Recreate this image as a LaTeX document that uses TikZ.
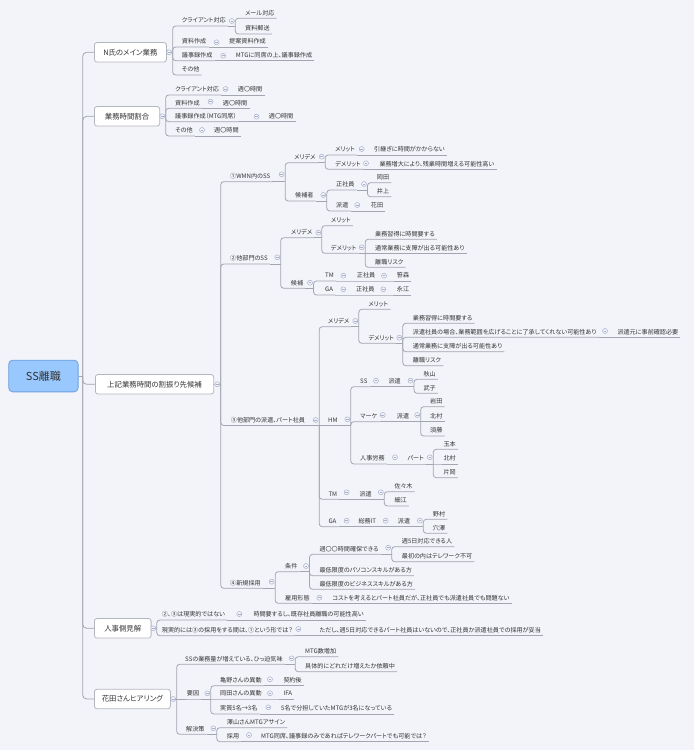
\documentclass[tikz,border=0pt]{standalone}
\usepackage{fontspec}
\setmainfont{Noto Sans CJK JP}[RawFeature=+palt]
\usetikzlibrary{positioning}
\definecolor{paper}{RGB}{243,244,250}
\definecolor{linecol}{RGB}{163,165,176}
\definecolor{boxline}{RGB}{180,182,190}
\definecolor{rootfill}{RGB}{153,200,255}
\definecolor{rootline}{RGB}{110,160,222}
\definecolor{ink}{RGB}{51,51,51}
\definecolor{foldcol}{RGB}{168,176,204}
\pgfdeclarelayer{paperlayer}
\pgfdeclarelayer{linelayer}
\pgfsetlayers{paperlayer,linelayer,main}
% 親トピック -> ボタン横の幹 -> 子トピックの下線
\newcommand{\fanout}[4]{%
  \draw[link] (#1.#2) -- (#3.east |- #1.#2);
  \foreach \kid in {#4}
    \draw[link, rounded corners=3pt] (#3.east |- #1.#2) |- (\kid.south east);
}

\begin{document}
\begin{tikzpicture}[x=1pt, y=-1pt,
        % 線のスタイル
        link/.style={draw=linecol, line width=0.8pt},
        % 中心トピック
        root/.style={rectangle, draw=rootline, fill=rootfill, rounded corners=4pt, line width=0.8pt, anchor=west, minimum width=69.4pt, minimum height=31.7pt, text=ink, font=\fontsize{11}{13}\selectfont},
        % メイントピック
        main/.style={rectangle, draw=boxline, fill=white, rounded corners=2.5pt, line width=0.8pt, anchor=west, minimum height=19.5pt, inner xsep=4pt, text=ink, font=\fontsize{7.4}{9}\selectfont},
        % サブトピック（下線付きテキスト）
        sub/.style={anchor=south west, xshift=-2pt, inner xsep=2pt, inner ysep=1.6pt, text height=4.7pt, text depth=1.3pt, text=ink, font=\fontsize{6.1}{7.3}\selectfont},
        % 折りたたみボタン
        fold/.style={circle, draw=foldcol, fill=paper, line width=0.5pt, minimum size=5pt, inner sep=0pt, outer sep=1pt, path picture={\draw[foldcol, line width=0.5pt] ([xshift=-1.3pt]path picture bounding box.center) -- ([xshift=1.3pt]path picture bounding box.center);}}
    ]
    \useasboundingbox (0,0) rectangle (694,750);
    \begin{pgfonlayer}{paperlayer}
        \fill[paper] (0,0) rectangle (694,750);
    \end{pgfonlayer}

    % 中心トピックとメイントピック
    \node[root] (root) at (8.3,376) {SS離職};
    \coordinate (j-root) at (82.7,376);
    \node[main, minimum width=72pt] (nshi) at (94,52.3) {N氏のメイン業務};
    \node[main, minimum width=65.3pt] (wari) at (94,116.3) {業務時間割合};
    \node[main, minimum width=118.3pt] (koho) at (95,384.3) {上記業務時間の割振り先候補};
    \node[main, minimum width=56.7pt] (jinji) at (94,628.3) {人事側見解};
    \node[main, minimum width=76pt] (hana) at (94,699) {花田さんヒアリング};
    \node[fold] (b-nshi) at (169.2,52.3) {};
    \node[fold] (b-wari) at (162.2,116.3) {};
    \node[fold] (b-koho) at (217.3,384.3) {};
    \node[fold] (b-jinji) at (153.3,628.3) {};
    \node[fold] (b-hana) at (173.2,699) {};

    % N氏のメイン業務
    \node[sub] (n-cl) at (181.7,26) {クライアント対応};
    \node[fold] (b-ncl) at (231.8,21) {};
    \node[sub] (n-mail) at (245,18.3) {メール対応};
    \node[sub] (n-yubin) at (245,34) {資料郵送};
    \node[sub] (n-shiryo) at (181.7,47) {資料作成};
    \node[fold] (b-nshiryo) at (216.5,42.3) {};
    \node[sub] (n-teian) at (229,47) {提案資料作成};
    \node[sub] (n-giji) at (181.7,60.7) {議事録作成};
    \node[fold] (b-ngiji) at (223.2,55.7) {};
    \node[sub] (n-mtg) at (235.7,60.7) {MTGに同席の上、議事録作成};
    \node[sub] (n-other) at (181.7,75) {その他};

    % 業務時間割合
    \node[sub] (w-cl) at (175,95) {クライアント対応};
    \node[fold] (b-wcl) at (225.5,89) {};
    \node[sub] (w-cl-t) at (237.7,95) {週〇時間};
    \node[sub] (w-shiryo) at (175,108.3) {資料作成};
    \node[fold] (b-wshiryo) at (210.5,101.7) {};
    \node[sub] (w-shiryo-t) at (222.7,108.3) {週〇時間};
    \node[sub] (w-giji) at (175,121.7) {議事録作成（MTG同席）};
    \node[fold] (b-wgiji) at (256.5,116.7) {};
    \node[sub] (w-giji-t) at (268.7,121.7) {週〇時間};
    \node[sub] (w-other) at (175,136) {その他};
    \node[fold] (b-wother) at (202,130) {};
    \node[sub] (w-other-t) at (214,136) {週〇時間};

    % ①WMN内のSS
    \node[sub] (k1) at (230,181.7) {①WMN内のSS};
    \node[fold] (b-k1) at (281.7,174.3) {};
    \node[sub] (k1-md) at (294,162.7) {メリデメ};
    \node[fold] (b-k1md) at (321.7,156.7) {};
    \node[sub] (k1-m) at (335,155) {メリット};
    \node[fold] (b-k1m) at (361.7,149) {};
    \node[sub] (k1-m1) at (374,155) {引継ぎに時間がかからない};
    \node[sub] (k1-d) at (335,169.3) {デメリット};
    \node[fold] (b-k1d) at (366,163.3) {};
    \node[sub] (k1-d1) at (379.3,169.3) {業務増大により、残業時間増える可能性高い};
    \node[sub] (k1-kh) at (295,201) {候補者};
    \node[fold] (b-k1kh) at (323.3,195) {};
    \node[sub] (k1-sei) at (336,190) {正社員};
    \node[fold] (b-k1sei) at (364,184) {};
    \node[sub] (k1-okada) at (376.7,182.7) {岡田};
    \node[sub] (k1-inoue) at (376.7,196.7) {井上};
    \node[sub] (k1-haken) at (336,211) {派遣};
    \node[fold] (b-k1haken) at (357.3,205) {};
    \node[sub] (k1-hanada) at (370.7,211) {花田};

    % ②他部門のSS
    \node[sub] (k2) at (230,264) {②他部門のSS};
    \node[fold] (b-k2) at (277.3,257.3) {};
    \node[sub] (k2-md) at (290.7,237.7) {メリデメ};
    \node[fold] (b-k2md) at (318.3,232.7) {};
    \node[sub] (k2-m) at (330.7,225.7) {メリット};
    \node[sub] (k2-d) at (330.7,253.3) {デメリット};
    \node[fold] (b-k2d) at (361.7,247.3) {};
    \node[sub] (k2-d1) at (375,239.3) {業務習得に時間要する};
    \node[sub] (k2-d2) at (375,253.3) {通常業務に支障が出る可能性あり};
    \node[sub] (k2-d3) at (375,267.3) {離職リスク};
    \node[sub] (k2-kh) at (290.7,288.3) {候補};
    \node[fold] (b-k2kh) at (310,282.7) {};
    \node[sub] (k2-tm) at (325,281) {TM};
    \node[fold] (b-k2tm) at (343.3,275.7) {};
    \node[sub] (k2-tm-s) at (356.7,281) {正社員};
    \node[fold] (b-k2tms) at (384,275.7) {};
    \node[sub] (k2-tm-n) at (396.7,281) {笹森};
    \node[sub] (k2-ga) at (325,295) {GA};
    \node[fold] (b-k2ga) at (343.3,289.3) {};
    \node[sub] (k2-ga-s) at (356,295) {正社員};
    \node[fold] (b-k2gas) at (383.3,289.3) {};
    \node[sub] (k2-ga-n) at (396.7,295) {永江};

    % ③他部門の派遣、パート社員
    \node[sub] (k3) at (230.7,425.5) {③他部門の派遣、パート社員};
    \node[fold] (b-k3) at (315.7,420) {};
    \node[sub] (k3-md) at (327.7,326.7) {メリデメ};
    \node[fold] (b-k3md) at (355.3,321) {};
    \node[sub] (k3-m) at (368.3,309.3) {メリット};
    \node[sub] (k3-d) at (368.3,343.3) {デメリット};
    \node[fold] (b-k3d) at (399.3,337.7) {};
    \node[sub] (k3-d1) at (412.7,323.3) {業務習得に時間要する};
    \node[sub] (k3-d2) at (412.7,337.3) {派遣社員の場合、業務範囲を広げることに了承してくれない可能性あり};
    \node[fold] (b-k3d2) at (605,331) {};
    \node[sub] (k3-d2a) at (617.3,337.3) {派遣元に事前確認必要};
    \node[sub] (k3-d3) at (412.7,351.7) {通常業務に支障が出る可能性あり};
    \node[sub] (k3-d4) at (412.7,365.7) {離職リスク};
    \node[sub] (k3-hm) at (328,425.5) {HM};
    \node[fold] (b-k3hm) at (347.3,419.3) {};
    \node[sub] (hm-ss) at (360,386.7) {SS};
    \node[fold] (b-hmss) at (376,380.7) {};
    \node[sub] (hm-ss-h) at (388.3,386.7) {派遣};
    \node[fold] (b-hmssh) at (410.5,380.7) {};
    \node[sub] (hm-akiyama) at (423.3,379.3) {秋山};
    \node[sub] (hm-takeko) at (423.3,393.3) {武子};
    \node[sub] (hm-mk) at (360,421.7) {マーケ};
    \node[fold] (b-hmmk) at (382.7,415) {};
    \node[sub] (hm-mk-h) at (396.7,421.7) {派遣};
    \node[fold] (b-hmmkh) at (417.2,415) {};
    \node[sub] (hm-iwata) at (430,406.7) {岩田};
    \node[sub] (hm-kitamura) at (430,421.7) {北村};
    \node[sub] (hm-sudo) at (430,436) {須藤};
    \node[sub] (hm-jr) at (360,464) {人事労務};
    \node[fold] (b-hmjr) at (395,457.3) {};
    \node[sub] (hm-jr-p) at (407.3,464) {パート};
    \node[fold] (b-hmjrp) at (429.8,457.3) {};
    \node[sub] (hm-tamamoto) at (443.3,449.3) {玉本};
    \node[sub] (hm-kitamura2) at (443.3,464) {北村};
    \node[sub] (hm-kataoka) at (443.3,477.7) {片岡};
    \node[sub] (k3-tm) at (328.3,499.3) {TM};
    \node[fold] (b-k3tm) at (346.7,492.3) {};
    \node[sub] (k3-tm-h) at (359.3,499.3) {派遣};
    \node[fold] (b-k3tmh) at (380.8,492.3) {};
    \node[sub] (tm-sasaki) at (394.3,491.7) {佐々木};
    \node[sub] (tm-hosoe) at (394.3,506) {細江};
    \node[sub] (k3-ga) at (328.3,526.7) {GA};
    \node[fold] (b-k3ga) at (346.7,520.7) {};
    \node[sub] (k3-ga-it) at (358.3,526.7) {総務IT};
    \node[fold] (b-k3gait) at (385.7,520.7) {};
    \node[sub] (k3-ga-h) at (397.7,526.7) {派遣};
    \node[fold] (b-k3gah) at (419.8,520.7) {};
    \node[sub] (ga-nomura) at (432.7,519.3) {野村};
    \node[sub] (ga-anazawa) at (432.7,533.3) {穴澤};

    % ④新規採用
    \node[sub] (k4) at (230,588.3) {④新規採用};
    \node[fold] (b-k4) at (271.7,581.7) {};
    \node[sub] (k4-jk) at (285,571.7) {条件};
    \node[fold] (b-k4jk) at (306,566) {};
    \node[sub] (jk1) at (319.3,554.3) {週〇〇時間確保できる};
    \node[fold] (b-jk1) at (388.2,547.7) {};
    \node[sub] (jk1a) at (401.7,546.7) {週5日対応できる人};
    \node[sub] (jk1b) at (401.7,561.7) {最初の内はテレワーク不可};
    \node[sub] (jk2) at (319.3,575.7) {最低限度のパソコンスキルがある方};
    \node[sub] (jk3) at (319.3,589.3) {最低限度のビジネススキルがある方};
    \node[sub] (k4-ky) at (285,603.3) {雇用形態};
    \node[fold] (b-k4ky) at (319.3,597.7) {};
    \node[sub] (ky1) at (332.3,603.3) {コストを考えるとパート社員だが、正社員でも派遣社員でも問題ない};

    % 人事側見解
    \node[sub] (j1) at (161.7,620) {②、③は現実的ではない};
    \node[fold] (b-j1) at (239.3,614) {};
    \node[sub] (j1a) at (253.3,620) {時間要するし、既存社員離職の可能性高い};
    \node[sub] (j2) at (161.7,635.7) {現実的には③の採用をする間は、①という形では？};
    \node[fold] (b-j2) at (298.3,629) {};
    \node[sub] (j2a) at (319.3,635.7) {ただし、週5日対応できるパート社員はいないので、正社員か派遣社員での採用が妥当};

    % 花田さんヒアリング
    \node[sub] (h1) at (185,664.3) {SSの業務量が増えている、ひっ迫気味};
    \node[fold] (b-h1) at (291.7,658.3) {};
    \node[sub] (h1a) at (305,656.7) {MTG数増加};
    \node[sub] (h1b) at (305,671.7) {具体的にどれだけ増えたか依頼中};
    \node[sub] (h2) at (186.7,699) {要因};
    \node[fold] (b-h2) at (207.3,693.3) {};
    \node[sub] (h2a) at (220,685.7) {亀野さんの異動};
    \node[fold] (b-h2a) at (270,679.3) {};
    \node[sub] (h2a1) at (283.3,685.7) {契約後};
    \node[sub] (h2b) at (220,699) {岡田さんの異動};
    \node[fold] (b-h2b) at (270,693.3) {};
    \node[sub] (h2b1) at (283.3,699) {IFA};
    \node[sub] (h2c) at (220,714) {実質5名→3名};
    \node[fold] (b-h2c) at (268.3,707.3) {};
    \node[sub] (h2c1) at (281,714) {5名で分担していたMTGが3名になっている};
    \node[sub] (h3) at (186,734.3) {解決策};
    \node[fold] (b-h3) at (213.3,728.3) {};
    \node[sub] (h3a) at (226.7,727.7) {澤山さんMTGアサイン};
    \node[sub] (h3b) at (226.7,741.7) {採用};
    \node[fold] (b-h3b) at (249,735) {};
    \node[sub] (h3b1) at (261,741.7) {MTG同席、議事録のみであればテレワークパートでも可能では？};

    % 接続線
    \begin{pgfonlayer}{linelayer}
    \draw[link] (root.east) -- (j-root);
    \foreach \m in {nshi,wari,koho,jinji,hana}
        \draw[link, rounded corners=4pt] (j-root) |- (\m.west);
    \fanout{nshi}{east}{b-nshi}{n-cl,n-shiryo,n-giji,n-other}
    \fanout{n-cl}{south east}{b-ncl}{n-mail,n-yubin}
    \draw[link] (n-shiryo.south east) -- (n-teian.south east);
    \draw[link] (n-giji.south east) -- (n-mtg.south east);
    \fanout{wari}{east}{b-wari}{w-cl,w-shiryo,w-giji,w-other}
    \draw[link] (w-cl.south east) -- (w-cl-t.south east);
    \draw[link] (w-shiryo.south east) -- (w-shiryo-t.south east);
    \draw[link] (w-giji.south east) -- (w-giji-t.south east);
    \draw[link] (w-other.south east) -- (w-other-t.south east);
    \fanout{koho}{east}{b-koho}{k1,k2,k3,k4}
    \fanout{k1}{south east}{b-k1}{k1-md,k1-kh}
    \fanout{k1-md}{south east}{b-k1md}{k1-m,k1-d}
    \draw[link] (k1-m.south east) -- (k1-m1.south east);
    \draw[link] (k1-d.south east) -- (k1-d1.south east);
    \fanout{k1-kh}{south east}{b-k1kh}{k1-sei,k1-haken}
    \fanout{k1-sei}{south east}{b-k1sei}{k1-okada,k1-inoue}
    \draw[link] (k1-haken.south east) -- (k1-hanada.south east);
    \fanout{k2}{south east}{b-k2}{k2-md,k2-kh}
    \fanout{k2-md}{south east}{b-k2md}{k2-m,k2-d}
    \fanout{k2-d}{south east}{b-k2d}{k2-d1,k2-d3}
    \draw[link] (k2-d.south east) -- (k2-d2.south east);
    \fanout{k2-kh}{south east}{b-k2kh}{k2-tm,k2-ga}
    \draw[link] (k2-tm.south east) -- (k2-tm-s.south east) -- (k2-tm-n.south east);
    \draw[link] (k2-ga.south east) -- (k2-ga-s.south east) -- (k2-ga-n.south east);
    \fanout{k3}{south east}{b-k3}{k3-md,k3-tm,k3-ga}
    \draw[link] (k3.south east) -- (k3-hm.south east);
    \fanout{k3-md}{south east}{b-k3md}{k3-m,k3-d}
    \fanout{k3-d}{south east}{b-k3d}{k3-d1,k3-d2,k3-d3,k3-d4}
    \draw[link] (k3-d2.south east) -- (k3-d2a.south east);
    \fanout{k3-hm}{south east}{b-k3hm}{hm-ss,hm-mk,hm-jr}
    \draw[link] (hm-ss.south east) -- (hm-ss-h.south east);
    \fanout{hm-ss-h}{south east}{b-hmssh}{hm-akiyama,hm-takeko}
    \draw[link] (hm-mk.south east) -- (hm-mk-h.south east) -- (hm-kitamura.south east);
    \fanout{hm-mk-h}{south east}{b-hmmkh}{hm-iwata,hm-sudo}
    \draw[link] (hm-jr.south east) -- (hm-jr-p.south east) -- (hm-kitamura2.south east);
    \fanout{hm-jr-p}{south east}{b-hmjrp}{hm-tamamoto,hm-kataoka}
    \draw[link] (k3-tm.south east) -- (k3-tm-h.south east);
    \fanout{k3-tm-h}{south east}{b-k3tmh}{tm-sasaki,tm-hosoe}
    \draw[link] (k3-ga.south east) -- (k3-ga-it.south east) -- (k3-ga-h.south east);
    \fanout{k3-ga-h}{south east}{b-k3gah}{ga-nomura,ga-anazawa}
    \fanout{k4}{south east}{b-k4}{k4-jk,k4-ky}
    \fanout{k4-jk}{south east}{b-k4jk}{jk1,jk2,jk3}
    \fanout{jk1}{south east}{b-jk1}{jk1a,jk1b}
    \draw[link] (k4-ky.south east) -- (ky1.south east);
    \fanout{jinji}{east}{b-jinji}{j1,j2}
    \draw[link] (j1.south east) -- (j1a.south east);
    \draw[link] (j2.south east) -- (j2a.south east);
    \fanout{hana}{east}{b-hana}{h1,h3}
    \draw[link] (hana.east) -- (h2.south east) -- (h2b.south east) -- (h2b1.south east);
    \fanout{h1}{south east}{b-h1}{h1a,h1b}
    \fanout{h2}{south east}{b-h2}{h2a,h2c}
    \draw[link] (h2a.south east) -- (h2a1.south east);
    \draw[link] (h2c.south east) -- (h2c1.south east);
    \fanout{h3}{south east}{b-h3}{h3a,h3b}
    \draw[link] (h3b.south east) -- (h3b1.south east);
    \end{pgfonlayer}
\end{tikzpicture}
\end{document}
